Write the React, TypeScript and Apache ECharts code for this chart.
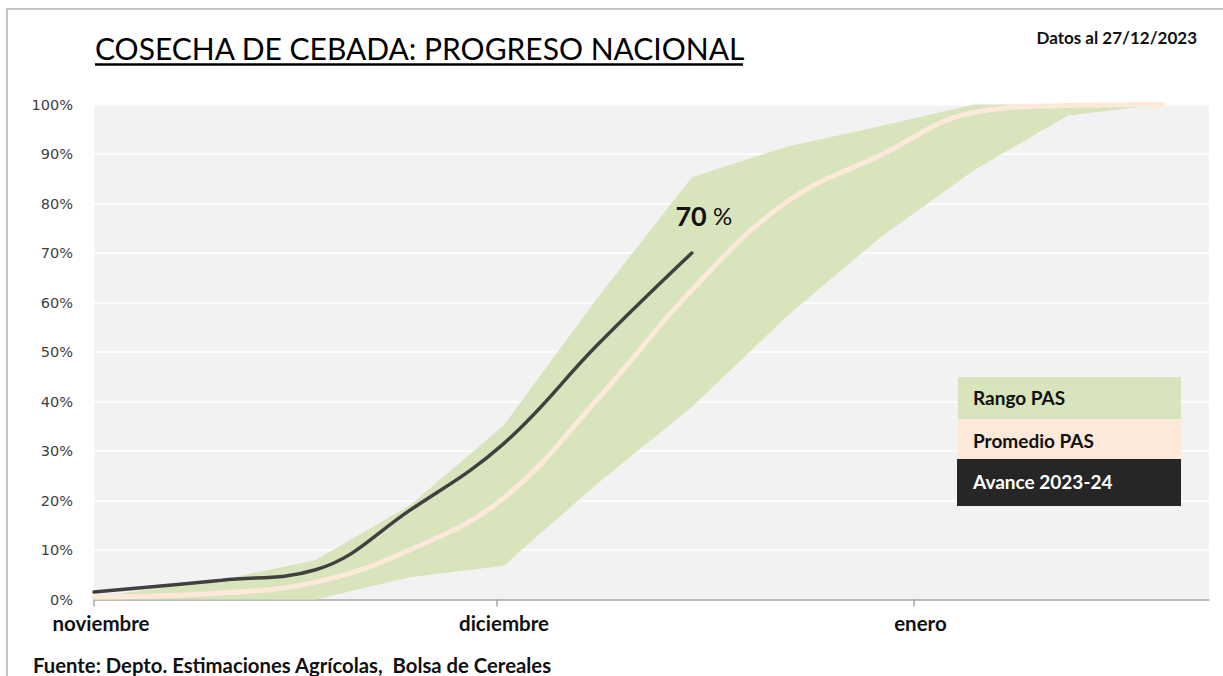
import React, { useEffect, useRef } from "react";
import * as echarts from "echarts";

// Days counted from 1 November (season axis)
const weekDays = [0, 9.5, 16.5, 23.5, 30.5, 37.5, 44.5, 51.5, 58.5, 65.5, 72.5, 79.5];
const rangoMin = [0, 0, 0, 4.5, 6.8, 23.5, 38.9, 57.0, 73.1, 86.7, 97.8, 100];
const rangoMax = [0.5, 4, 8, 19, 35.2, 61, 85.3, 91.4, 95.6, 100, 100, 100];
const promedioPAS = [0.5, 1.3, 3.5, 10, 20.5, 40.5, 62.5, 80.2, 89.7, 98.4, 99.8, 100];
const avance2023 = [1.5, 3.9, 6.0, 18, 31.5, 51.5, 70];

const monthTicks = [0, 30, 61];
const monthLabels = ["noviembre", "diciembre", "enero"];
const yTicks = [0, 10, 20, 30, 40, 50, 60, 70, 80, 90, 100];

const legendItems = ["Rango PAS", "Promedio PAS", "Avance 2023-24"];

const FONT = "Lato, 'Open Sans', sans-serif";

export default function App() {
  const ref = useRef<HTMLDivElement>(null);
  useEffect(() => {
    if (!ref.current) return;
    const chart = echarts.init(ref.current, null, { renderer: "svg" });
    const pair = (arr: number[]) => arr.map((v, i) => [weekDays[i], v]);
    const bandData = weekDays.map((x, i) => [x, rangoMin[i], rangoMax[i]]);
    const legendText = (i: number, y: number, fill: string) => ({
      type: "text",
      z: 20,
      x: 973,
      y,
      style: {
        text: legendItems[i],
        fontFamily: FONT,
        fontWeight: "bold",
        fontSize: 19,
        fill,
        verticalAlign: "middle",
      },
    });
    const option: any = {
      animation: false,
      backgroundColor: "#ffffff",
      grid: {
        left: 94,
        right: 14,
        top: 104.5,
        bottom: 76.5,
        show: true,
        backgroundColor: "#f2f2f2",
        borderWidth: 0,
      },
      xAxis: {
        type: "value",
        min: 0,
        max: 83,
        axisLine: { show: true, lineStyle: { color: "#a6a6a6", width: 1.5 } },
        axisTick: {
          show: true,
          customValues: monthTicks,
          length: 7,
          lineStyle: { color: "#a6a6a6", width: 1.5 },
        },
        axisLabel: {
          customValues: monthTicks,
          formatter: (v: number) => {
            const i = monthTicks.indexOf(v);
            return i >= 0 ? monthLabels[i] : "";
          },
          fontFamily: FONT,
          fontWeight: "bold",
          fontSize: 20.5,
          color: "#111111",
          margin: 13,
          padding: [0, 0, 0, 14],
        },
        splitLine: { show: false },
      },
      yAxis: {
        type: "value",
        min: 0,
        max: 100,
        interval: 10,
        axisLine: { show: false },
        axisTick: { show: false },
        axisLabel: {
          formatter: (v: number) => (yTicks.includes(v) ? v + "%" : ""),
          fontFamily: "'DejaVu Sans', sans-serif",
          fontSize: 14.5,
          color: "#404040",
          margin: 21,
        },
        splitLine: { show: true, lineStyle: { color: "#ffffff", width: 1.5 } },
      },
      series: [
        {
          name: "Rango PAS",
          type: "custom",
          data: bandData,
          encode: { x: 0, y: [1, 2] },
          silent: true,
          z: 1,
          renderItem: (params: any, api: any) => {
            if (params.dataIndex !== 0) return null;
            const upper = bandData.map((d) => api.coord([d[0], d[2]]));
            const lower = bandData.map((d) => api.coord([d[0], d[1]])).reverse();
            return {
              type: "polygon",
              shape: { points: upper.concat(lower) },
              style: { fill: "#d8e4bc" },
            };
          },
        },
        {
          name: "Promedio PAS",
          type: "line",
          data: pair(promedioPAS),
          smooth: 0.4,
          symbol: "none",
          clip: false,
          z: 3,
          lineStyle: { color: "#fde9d9", width: 5, cap: "round" },
        },
        {
          name: "Avance 2023-24",
          type: "line",
          data: pair(avance2023),
          smooth: 0.4,
          symbol: "none",
          clip: false,
          z: 4,
          lineStyle: { color: "#404040", width: 3.5, cap: "round" },
          markPoint: {
            symbol: "circle",
            symbolSize: 0,
            data: [{ type: "max", name: "max" }],
            label: {
              show: true,
              position: "top",
              offset: [12, -19],
              formatter: (p: any) => `{n|${p.value}}{p| %}`,
              rich: {
                n: { fontFamily: FONT, fontWeight: "bold", fontSize: 27, color: "#111111" },
                p: { fontFamily: FONT, fontWeight: "normal", fontSize: 24, color: "#111111" },
              },
            },
          },
        },
      ],
      graphic: [
        {
          type: "rect",
          z: 20,
          shape: { x: 7, y: 9, width: 1400, height: 800 },
          style: { fill: "none", stroke: "#b3b3b3", lineWidth: 1.5 },
          silent: true,
        },
        {
          type: "text",
          z: 20,
          x: 95,
          y: 48,
          style: {
            text: "COSECHA DE CEBADA: PROGRESO NACIONAL",
            fontFamily: FONT,
            fontSize: 30,
            fill: "#000000",
            verticalAlign: "middle",
          },
        },
        {
          type: "line",
          z: 20,
          shape: { x1: 95, y1: 64.5, x2: 743, y2: 64.5 },
          style: { stroke: "#000000", lineWidth: 2.5 },
        },
        {
          type: "text",
          z: 20,
          x: 1197,
          y: 37,
          style: {
            text: "Datos al 27/12/2023",
            fontFamily: FONT,
            fontWeight: "bold",
            fontSize: 17,
            fill: "#111111",
            align: "right",
            verticalAlign: "middle",
          },
        },
        {
          type: "text",
          z: 20,
          x: 33,
          y: 665,
          style: {
            text: "Fuente: Depto. Estimaciones Agrícolas,  Bolsa de Cereales",
            fontFamily: FONT,
            fontWeight: "bold",
            fontSize: 20.3,
            fill: "#111111",
            verticalAlign: "middle",
          },
        },
        {
          type: "rect",
          z: 19,
          shape: { x: 958, y: 377, width: 223, height: 42 },
          style: { fill: "#d8e4bc" },
        },
        {
          type: "rect",
          z: 19,
          shape: { x: 958, y: 419, width: 223, height: 40 },
          style: { fill: "#fde9d9" },
        },
        {
          type: "rect",
          z: 19,
          shape: { x: 957, y: 459, width: 224, height: 47 },
          style: { fill: "#262626" },
        },
        legendText(0, 397, "#111111"),
        legendText(1, 440, "#111111"),
        legendText(2, 481, "#ffffff"),
      ],
    };
    chart.setOption(option);
    return () => chart.dispose();
  }, []);
  return (
    <div
      ref={ref}
      style={{ position: "fixed", left: 0, top: 0, width: 1223, height: 676 }}
    />
  );
}
